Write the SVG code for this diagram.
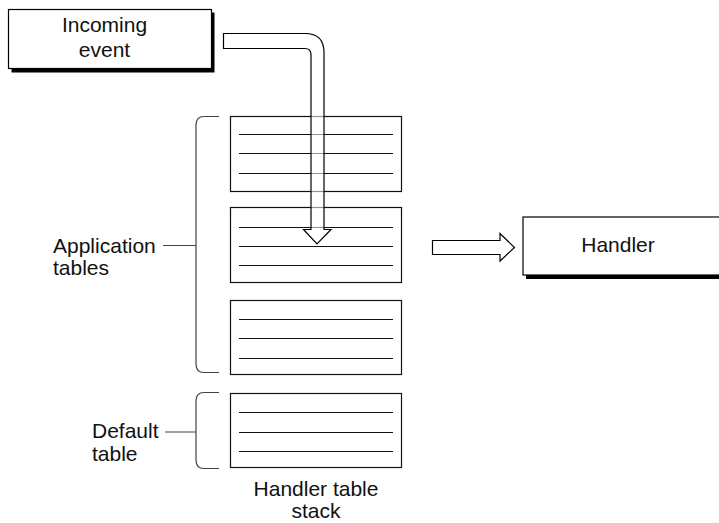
<svg xmlns="http://www.w3.org/2000/svg" width="719" height="523" viewBox="0 0 719 523">
<style>
text{font-family:"Liberation Sans",Arial,sans-serif;font-size:21px;fill:#111}
.box{fill:#fff;stroke:#000;stroke-width:1.2}
.sh{fill:#000}
.tbl{fill:#fff;stroke:#111;stroke-width:1.2}
.ln{stroke:#111;stroke-width:1.2}
.br{fill:none;stroke:#444;stroke-width:1.2}
.arr{fill:#fff;fill-opacity:0.55;stroke:#000;stroke-width:1.2;stroke-linejoin:miter}
</style>
<rect width="719" height="523" fill="#fff"/>
<g id="incoming">
<rect class="sh" x="11.5" y="12.5" width="203" height="60"/>
<rect class="box" x="8.5" y="9.5" width="203" height="59"/>
<text x="104.5" y="32" text-anchor="middle">Incoming</text>
<text x="104.5" y="57" text-anchor="middle">event</text>
</g>
<g id="handler">
<rect class="sh" x="526" y="220" width="200" height="59"/>
<rect class="box" x="523" y="217" width="200" height="58"/>
<text x="618" y="252" text-anchor="middle">Handler</text>
</g>
<g id="table1">
<rect class="tbl" x="230.5" y="116.5" width="171" height="75"/>
<path class="ln" d="M239 134.5H393M239 153.5H393M239 173.5H393"/>
</g>
<g id="table2">
<rect class="tbl" x="230.5" y="207.5" width="171" height="75"/>
<path class="ln" d="M239 227.5H393M239 246.5H393M239 265.5H393"/>
</g>
<g id="table3">
<rect class="tbl" x="230.5" y="300.5" width="171" height="74"/>
<path class="ln" d="M239 319.5H393M239 338.5H393M239 358.5H393"/>
</g>
<g id="table4">
<rect class="tbl" x="230.5" y="393.5" width="171" height="74"/>
<path class="ln" d="M239 412.5H393M239 432.5H393M239 451.5H393"/>
</g>
<g id="app-label">
<path class="br" d="M219 116.5H204Q196 116.5 196 125V364Q196 372.5 204 372.5H219M163 245.5H196"/>
<text x="53" y="253">Application</text>
<text x="53" y="275">tables</text>
</g>
<g id="default-label">
<path class="br" d="M219 392.5H204Q196 392.5 196 401V460Q196 468.5 204 468.5H219M165 432H196"/>
<text x="92" y="438">Default</text>
<text x="92" y="461">table</text>
</g>
<g id="stack-label">
<text x="316" y="496" text-anchor="middle">Handler table</text>
<text x="316" y="518" text-anchor="middle">stack</text>
</g>
<g id="connectors">
<path class="arr" d="M223.5 33.5H305Q324 33.5 324 52.5V229.5H331L317 244L303.5 229.5H311V55Q311 48.5 305 48.5H223.5Z"/>
<path class="arr" d="M432.5 240.5H500V233.5L514.5 247.5L500 261V254.5H432.5Z"/>
</g>
</svg>
